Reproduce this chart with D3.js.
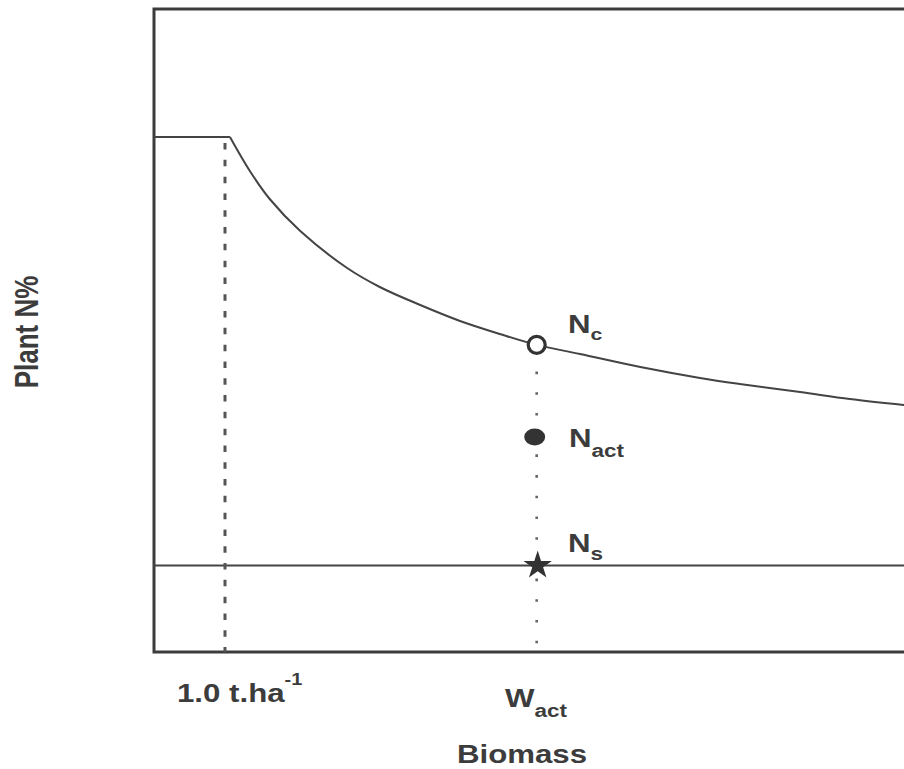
<!DOCTYPE html>
<html>
<head>
<meta charset="utf-8">
<script src="https://cdn.jsdelivr.net/npm/d3@7"></script>
<style>
  html, body { margin: 0; padding: 0; background: #fff; }
  svg { display: block; }
  text { font-family: "Liberation Sans", Arial, Helvetica, sans-serif; font-weight: bold; fill: #3c3c3c; }
</style>
</head>
<body>
<svg id="chart" width="904" height="769"></svg>
<script>
// ---- data (biomass in t/ha, plant N %) ----
const plateauW = [0, 1.07];
const plateauN = [4.805, 4.805];
const curveW = [1.07, 1.35, 1.63, 2.06, 2.72, 3.18, 3.75, 4.31, 4.87, 5.39, 6.0, 6.85, 7.69, 8.25, 9.10, 9.80, 10.56, 11.0];
const curveN = [4.805, 4.488, 4.227, 3.928, 3.583, 3.406, 3.238, 3.089, 2.968, 2.866, 2.781, 2.659, 2.557, 2.501, 2.426, 2.361, 2.305, 2.277];
const thresholdW = 1.0;
const wAct = 5.39;
const nC = 2.866;
const nAct = 2.006;
const nS = 0.807;
const xDomain = [0, 11];
const yDomain = [0, 6];

// ---- layout ----
const svg = d3.select("#chart");
const x = d3.scaleLinear().domain(xDomain).range([154, 935]);
const y = d3.scaleLinear().domain(yDomain).range([652, 9]);
const ink = "#3c3c3c";

// frame
svg.append("rect")
  .attr("x", x(xDomain[0])).attr("y", y(yDomain[1]))
  .attr("width", x(xDomain[1]) - x(xDomain[0]))
  .attr("height", y(yDomain[0]) - y(yDomain[1]))
  .attr("fill", "none").attr("stroke", ink).attr("stroke-width", 3);

// Ns horizontal line
svg.append("line")
  .attr("x1", x(xDomain[0])).attr("x2", x(xDomain[1]))
  .attr("y1", y(nS)).attr("y2", y(nS))
  .attr("stroke", "#444").attr("stroke-width", 2);

// dashed threshold line
svg.append("line")
  .attr("x1", x(thresholdW)).attr("x2", x(thresholdW))
  .attr("y1", y(plateauN[0])).attr("y2", y(0))
  .attr("stroke", "#555").attr("stroke-width", 3)
  .attr("stroke-dasharray", "6.5 10.3").attr("stroke-dashoffset", 10.8);

// dotted W_act line
svg.append("line")
  .attr("x1", x(wAct)).attr("x2", x(wAct))
  .attr("y1", y(nC)).attr("y2", y(0))
  .attr("stroke", "#666").attr("stroke-width", 2.6)
  .attr("stroke-dasharray", "2.6 18.1").attr("stroke-dashoffset", 14.7);

// plateau
const line = d3.line().x(d => x(d[0])).y(d => y(d[1]));
svg.append("path")
  .datum(plateauW.map((w, i) => [w, plateauN[i]]))
  .attr("d", line).attr("fill", "none").attr("stroke", "#444").attr("stroke-width", 2);

// dilution curve
svg.append("path")
  .datum(curveW.map((w, i) => [w, curveN[i]]))
  .attr("d", line.curve(d3.curveCatmullRom))
  .attr("fill", "none").attr("stroke", "#444").attr("stroke-width", 2);

// markers
svg.append("circle")
  .attr("cx", x(wAct)).attr("cy", y(nC)).attr("r", 8.5)
  .attr("fill", "#fff").attr("stroke", "#333").attr("stroke-width", 3.2);
svg.append("ellipse")
  .attr("cx", x(wAct) - 2).attr("cy", y(nAct)).attr("rx", 10.5).attr("ry", 8.5)
  .attr("fill", "#333");
svg.append("path")
  .attr("d", d3.symbol().type(d3.symbolStar).size(250)())
  .attr("transform", `translate(${x(wAct) + 1},${y(nS)})`)
  .attr("fill", "#333");

// ---- labels (source artwork is horizontally stretched ~1.25x) ----
function label(px, py, parts, opts = {}) {
  const rot = opts.rotate ? " rotate(-90)" : "";
  const t = svg.append("text")
    .attr("transform", `translate(${px},${py}) scale(1.25,1)${rot}`)
    .attr("text-anchor", opts.anchor || "start")
    .attr("font-size", opts.size || 25);
  parts.forEach(p => {
    const s = t.append("tspan").text(p.t);
    if (p.size) s.attr("font-size", p.size);
    if (p.dy) s.attr("dy", p.dy);
  });
  return t;
}

label(38, 332, [{t: "Plant N%"}], {rotate: true, anchor: "middle", size: 26});
label(522, 763, [{t: "Biomass"}], {anchor: "middle"});
label(177, 702, [{t: "1.0 t.ha"}, {t: "-1", size: 16, dy: -17}]);
label(505, 707, [{t: "W"}, {t: "act", size: 18, dy: 10}]);
label(568, 333, [{t: "N"}, {t: "c", size: 17, dy: 7}]);
label(569, 447, [{t: "N"}, {t: "act", size: 18, dy: 10}]);
label(568, 552, [{t: "N"}, {t: "s", size: 18, dy: 8}]);
</script>
</body>
</html>
